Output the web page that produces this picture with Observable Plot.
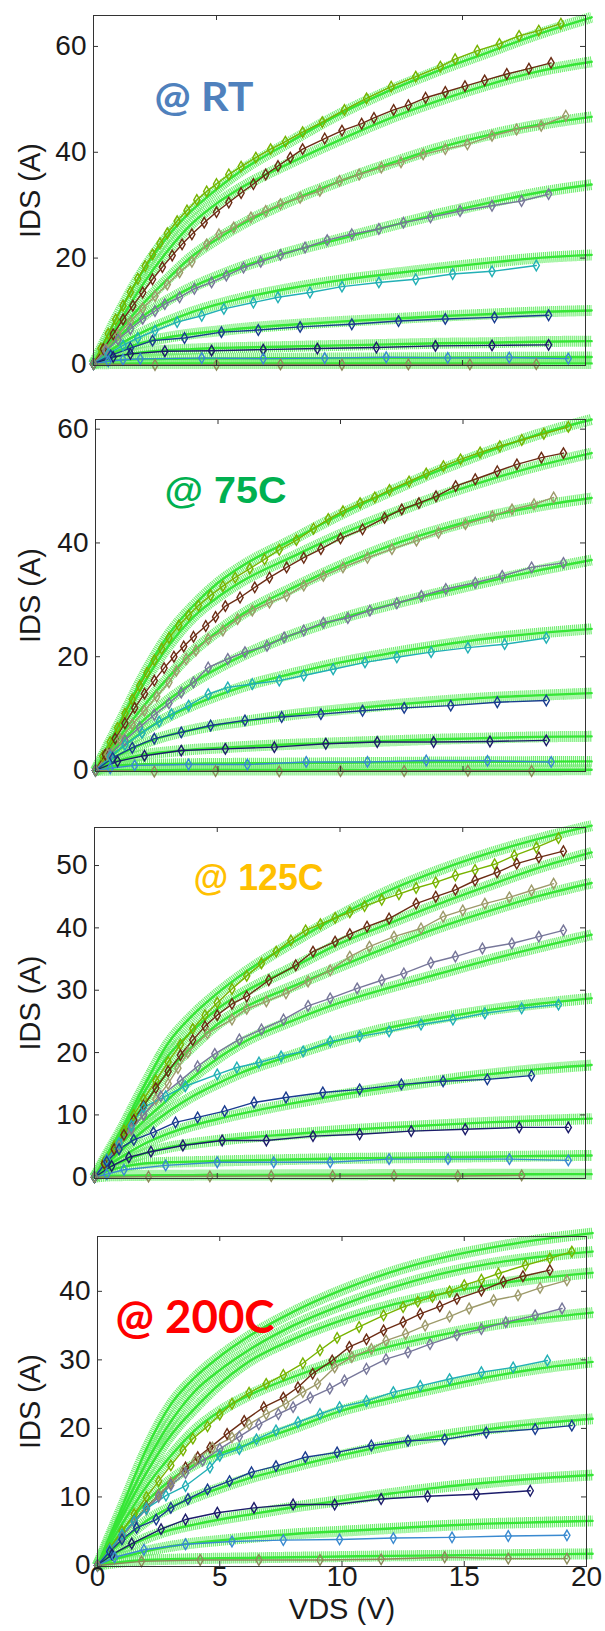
<!DOCTYPE html>
<html><head><meta charset="utf-8">
<script src="https://cdn.jsdelivr.net/npm/d3@7"></script>
<script src="https://cdn.jsdelivr.net/npm/@observablehq/plot@0.6"></script>
<style>
body{margin:0;background:#fff;}
#chart{position:relative;width:605px;height:1631px;overflow:hidden;background:#fff;}
#chart svg{position:absolute;left:0;display:block;}
</style></head><body><div id="chart"></div>
<script>
// ---------- shared values ----------
const xLabel = "VDS (V)";
const yLabel = "IDS (A)";
const xTickLabels = [0, 5, 10, 15, 20];
const xInnerTicks = [5, 10, 15];
const modelV = [0, 0.5, 1, 2, 3, 4, 5, 6, 8, 10, 12, 14, 16, 18, 20.25];
const measColors = ["#77b300", "#6b2c14", "#9d9a6a", "#77779a", "#22b0b5", "#1a3c8f", "#1c1c6a", "#3a8ad0", "#8c8a5a"];
const titles = ["@ RT", "@ 75C", "@ 125C", "@ 200C"];
const titleColors = ["#4F81BD", "#00B050", "#FFC000", "#FF0000"];
const yTicksRT = [0, 20, 40, 60];
const yTicks75 = [0, 20, 40, 60];
const yTicks125 = [0, 10, 20, 30, 40, 50];
const yTicks200 = [0, 10, 20, 30, 40];

// ---------- model curves (IDS at modelV) ----------
const modelRT = [
  [0, 4.7, 9.3, 17.5, 24, 29, 33, 36.5, 42, 47.2, 51.6, 55.4, 58.8, 62.2, 65.5],
  [0, 3.8, 7.5, 15, 21.3, 26.5, 30.3, 33.3, 38, 42.3, 46.3, 49.7, 52.7, 55.2, 57.1],
  [0, 3, 6, 11.3, 16, 20.3, 23.5, 26.3, 30.8, 34.5, 37.8, 40.8, 43.2, 45.1, 46.7],
  [0, 2.6, 5, 9, 12, 14.5, 16.5, 18.3, 21.2, 23.6, 26, 28.3, 30.4, 32.3, 33.9],
  [0, 1.9, 3.5, 6, 8, 9.8, 11.2, 12.4, 14.3, 15.8, 17, 18.1, 19.1, 20, 20.6],
  [0, 1.5, 2.5, 4, 5, 5.7, 6.2, 6.7, 7.4, 8, 8.5, 9, 9.4, 9.8, 10.1],
  [0, 1, 1.5, 2.2, 2.6, 2.8, 3, 3.1, 3.3, 3.5, 3.7, 3.9, 4, 4.2, 4.3],
  [0, 0.5, 0.7, 0.9, 0.95, 1, 1.02, 1.05, 1.08, 1.1, 1.14, 1.18, 1.22, 1.26, 1.3],
  [0, 0.05, 0.06, 0.07, 0.07, 0.08, 0.08, 0.08, 0.09, 0.09, 0.1, 0.1, 0.1, 0.1, 0.1]
];
const model75 = [
  [0, 4.3, 8.5, 17, 24, 29, 33, 36, 40.5, 45, 49, 52.7, 56, 59, 61.7],
  [0, 3.8, 7.5, 15.5, 22, 27, 30.5, 33.3, 37.5, 41.5, 45, 48.2, 51, 53.5, 55.8],
  [0, 3, 6, 11.5, 16.5, 21, 24.5, 27.5, 32, 36, 39.5, 42.3, 44.6, 46.4, 47.9],
  [0, 2.5, 4.8, 9, 12.5, 15.5, 18, 20.2, 23.8, 26.7, 29.1, 31.2, 33.2, 35.1, 37],
  [0, 2, 3.8, 7, 9.5, 11.5, 13.2, 14.7, 17, 19, 20.6, 22, 23.2, 24.1, 24.9],
  [0, 1.6, 2.8, 4.8, 6.2, 7.2, 8, 8.6, 9.8, 10.7, 11.5, 12.2, 12.8, 13.2, 13.6],
  [0, 1.1, 1.8, 2.8, 3.3, 3.7, 3.95, 4.2, 4.6, 4.9, 5.2, 5.5, 5.7, 5.9, 6.0],
  [0, 0.6, 0.9, 1.1, 1.15, 1.2, 1.23, 1.26, 1.3, 1.36, 1.42, 1.48, 1.52, 1.56, 1.6],
  [0, 0.05, 0.06, 0.07, 0.07, 0.08, 0.08, 0.08, 0.09, 0.09, 0.1, 0.1, 0.1, 0.1, 0.12]
];
const model125 = [
  [0, 3.6, 7, 14.5, 21.5, 26, 29.5, 32.5, 37.5, 42, 46, 49.2, 51.9, 54.2, 56.4],
  [0, 3.3, 6.5, 13.5, 19.5, 23.5, 27, 29.5, 33.5, 37.5, 40.7, 43.8, 46.7, 49.5, 52.1],
  [0, 3, 6, 11.5, 17, 21, 24.5, 27, 30.5, 33.8, 37, 40, 42.6, 45, 47.2],
  [0, 2.6, 5, 9, 12.5, 16, 19, 21.5, 25, 28, 30.4, 32.6, 34.8, 36.8, 38.9],
  [0, 2.1, 4, 7.5, 10.5, 13, 15, 16.8, 19.5, 22, 24, 25.5, 26.8, 27.8, 28.7],
  [0, 1.7, 3, 5.3, 7, 8.3, 9.3, 10.2, 11.8, 13.2, 14.4, 15.5, 16.5, 17.3, 18],
  [0, 1.4, 2.3, 3.8, 4.8, 5.4, 5.9, 6.3, 6.9, 7.5, 8, 8.4, 8.8, 9.1, 9.4],
  [0, 1, 1.5, 2.2, 2.4, 2.5, 2.6, 2.7, 2.85, 3, 3.1, 3.2, 3.3, 3.4, 3.5],
  [0, 0.2, 0.25, 0.3, 0.32, 0.34, 0.36, 0.37, 0.39, 0.41, 0.43, 0.45, 0.47, 0.49, 0.5]
];
const model200 = [
  [0, 4.3, 8.5, 17, 23.5, 27.5, 30.5, 33, 37, 40.2, 42.8, 44.8, 46.3, 47.5, 48.5],
  [0, 3.9, 7.7, 15, 21, 25.5, 28.5, 31, 35, 38, 40.5, 42.5, 44, 45, 45.8],
  [0, 3.6, 7, 13.5, 19, 23, 26.5, 29.3, 33, 35.8, 38, 39.6, 40.9, 41.9, 42.7],
  [0, 3.1, 6, 11.5, 16, 19.8, 22.5, 24.5, 27.5, 30, 32, 33.6, 35, 36, 36.9],
  [0, 2.6, 5, 9.3, 12.5, 14.8, 16.3, 17.5, 20, 22.6, 24.4, 26, 27.5, 28.7, 29.7],
  [0, 1.9, 3.5, 6.5, 8.5, 10, 11.3, 12.5, 14.4, 16.1, 17.6, 18.9, 19.9, 20.7, 21.4],
  [0, 1.3, 2.3, 4, 5.2, 6, 6.7, 7.3, 8.5, 9.5, 10.5, 11.4, 12.1, 12.7, 13.2],
  [0, 0.7, 1.2, 2.1, 2.8, 3.3, 3.65, 4, 4.6, 5, 5.4, 5.8, 6.1, 6.3, 6.5],
  [0, 0.3, 0.5, 0.8, 0.9, 1, 1.05, 1.1, 1.2, 1.3, 1.4, 1.47, 1.55, 1.62, 1.7]
];

// ---------- measured curves: [VDS, IDS] ----------
const measRT = [
  [[0,0],[0.3,2.9],[0.6,5.7],[0.9,8.4],[1.2,11],[1.5,13.6],[1.8,16.1],[2.1,18.5],[2.4,20.7],[2.7,22.8],[3,24.7],[3.4,27],[3.8,29],[4.2,31],[4.6,32.6],[5,34],[5.5,35.8],[6,37.3],[6.6,39],[7.2,40.6],[7.8,42],[8.5,43.8],[9.3,45.7],[10.2,48],[11.1,50.2],[12.1,52.4],[13.1,54.3],[14.1,56.2],[14.7,57.6],[15.6,59.2],[16.5,60.5],[17.3,62],[18.1,63],[19,64.3]],
  [[0,0],[0.4,2.8],[0.8,5.6],[1.2,8.4],[1.6,11],[2,13.5],[2.4,16],[2.8,18.3],[3.2,20.5],[3.6,22.6],[4,24.5],[4.5,26.7],[5,28.7],[5.5,30.5],[6,32.3],[6.5,34],[7,35.8],[7.5,37.4],[8,39],[8.5,40.6],[9.4,42.6],[10.1,44.1],[10.9,45.4],[11.4,46.5],[12.2,48],[12.8,48.9],[13.5,50.3],[14.3,51.4],[15.1,52.5],[15.9,53.6],[16.8,54.8],[17.7,55.8],[18.6,56.9]],
  [[0,0],[0.5,2.8],[1,5.5],[1.5,8],[2,10.5],[2.5,12.8],[3,15],[3.5,17.3],[4,19.3],[4.6,22.6],[5.1,24.5],[5.7,25.8],[6.4,27.7],[7,28.9],[7.6,30.2],[8.4,31.4],[9.2,32.7],[10,34.6],[10.8,35.8],[11.7,37.1],[12.5,38.1],[13.4,39.6],[14.3,40.6],[15.2,41.5],[16.2,43.1],[17.2,44.3],[18.2,45],[19.2,46.9]],
  [[0,0],[0.5,2.4],[1,4.6],[1.5,6.6],[2,8.5],[2.5,10],[2.9,11.3],[3.5,12.6],[4.1,14.2],[4.8,15.4],[5.4,16.7],[6.1,18.2],[6.8,19.3],[7.6,20.6],[8.6,22],[9.5,23.4],[10.5,24.5],[11.6,25.5],[12.6,26.7],[13.7,27.7],[14.9,28.9],[16.2,29.9],[17.4,30.8],[18.5,32.1]],
  [[0,0],[0.6,1.9],[1.2,3.5],[1.8,4.9],[2.5,6.3],[3.4,7.9],[4.4,9.1],[5.3,10.4],[6.5,11.6],[7.5,12.6],[8.8,13.5],[10.1,14.6],[11.6,15.4],[13.1,16],[14.6,17],[16.2,17.5],[18,18.6]],
  [[0,0],[0.7,1.6],[1.5,3],[2.4,4.4],[3.7,4.9],[5.2,6],[6.7,6.4],[8.4,7],[10.5,7.5],[12.4,8.1],[14.3,8.5],[16.3,8.8],[18.5,9.2]],
  [[0,0],[0.8,1.3],[1.5,1.9],[2.9,2.4],[4.8,2.5],[6.9,2.7],[9.1,2.9],[11.5,3.1],[13.9,3.4],[16.2,3.5],[18.5,3.6]],
  [[0,0],[0.6,0.5],[1.2,0.8],[1.9,0.95],[4.4,1.1],[6.9,1.0],[9.4,1.1],[11.9,1.25],[14.4,1.15],[16.9,1.2],[19.3,1.0]],
  [[0,0],[2.5,-0.2],[5,-0.15],[7.6,-0.1],[10.1,-0.15],[12.8,-0.1],[15.3,-0.1],[18,-0.05]]
];
const meas75 = [
  [[0,0],[0.3,2.5],[0.6,5],[0.9,7.5],[1.2,10],[1.5,12.5],[1.8,14.9],[2.1,17.2],[2.4,19.4],[2.7,21.4],[3,23.3],[3.4,25.5],[3.8,27.3],[4.2,29],[4.7,30.8],[5.2,32.4],[5.7,33.9],[6.3,35.5],[6.9,37.1],[7.5,38.8],[8.2,40.5],[8.9,42.5],[9.5,44.2],[10.1,45.6],[10.8,47],[11.4,48],[12,49.3],[12.8,50.8],[13.5,52.2],[14.2,53.5],[14.9,54.7],[15.7,55.9],[16.5,57],[17.4,58.1],[18.3,59.2],[19.3,60.4]],
  [[0,0],[0.4,2.8],[0.8,5.6],[1.2,8.3],[1.6,11],[2,13.5],[2.4,15.8],[2.8,18],[3.2,20],[3.6,21.8],[4,23.5],[4.5,25.4],[4.9,27],[5.3,28.9],[5.9,30.4],[6.5,32.2],[7.1,33.9],[7.8,35.7],[8.5,37.4],[9.2,38.9],[10,40.8],[10.9,42.4],[11.8,44.4],[12.5,45.9],[13.2,47],[13.9,48.2],[14.7,50],[15.5,51.2],[16.4,52.6],[17.2,53.8],[18.2,55],[19.1,55.8]],
  [[0,0],[0.5,2.8],[1,5.5],[1.5,8.1],[2,10.5],[2.5,13],[3,15.5],[3.3,17.5],[3.7,19.6],[4.1,21.1],[4.6,23.1],[5.2,24.6],[5.8,26.6],[6.4,28.1],[7.1,29.5],[7.8,30.7],[8.5,32.5],[9.3,34.2],[10.1,35.7],[11.1,37.4],[12.1,38.9],[13.1,40.4],[14,41.8],[15.1,43.3],[16.2,44.7],[17,45.9],[17.9,46.8],[18.7,48]],
  [[0,0],[0.6,2.8],[1.2,5.3],[1.8,7.6],[2.4,9.8],[3,11.8],[3.5,13.7],[4,15.5],[4.6,18.1],[5.4,19.6],[6.1,20.8],[7,21.9],[7.7,23.4],[8.5,24.6],[9.3,26],[10.3,26.8],[11.2,28.1],[12.3,29.4],[13.3,30.7],[14.3,31.9],[15.5,33],[16.6,34.2],[17.8,35.7],[19.1,36.5]],
  [[0,0],[0.6,2.4],[1.2,4.5],[1.9,6.6],[2.6,8.6],[3.1,9.9],[3.8,11.4],[4.6,13.4],[5.4,14.6],[6.4,15.2],[7.5,15.8],[8.5,16.7],[9.7,17.8],[11,19],[12.3,19.9],[13.7,20.8],[15.2,21.6],[16.7,22.2],[18.4,23.3]],
  [[0,0],[0.7,2.2],[1.5,4],[2.4,5.6],[3.5,6.7],[4.7,7.9],[6.1,8.8],[7.6,9.4],[9.2,9.9],[10.9,10.5],[12.6,11],[14.5,11.4],[16.4,12],[18.4,12.3]],
  [[0,0],[0.9,1.6],[2,2.6],[3.5,3.5],[5.3,3.8],[7.3,4.1],[9.4,4.7],[11.5,5],[13.8,5],[16.1,5.1],[18.4,5.3]],
  [[0,0],[0.6,0.4],[1.6,0.9],[3.8,1.05],[6.2,1.05],[8.6,1.5],[11.1,1.5],[13.5,1.75],[16,1.7],[18.6,1.5]],
  [[0,0],[2.4,-0.2],[4.9,-0.1],[7.5,-0.15],[10,-0.1],[12.6,-0.1],[15.2,-0.05],[17.8,-0.1]]
];
const meas125 = [
  [[0,0],[0.4,2.5],[0.8,5],[1.2,7.5],[1.6,10],[2,12.5],[2.5,15.5],[3,18.5],[3.5,21.3],[4,23.8],[4.5,26],[5,28],[5.6,30.2],[6.2,32.3],[6.8,34.3],[7.4,36.2],[8,38],[8.6,39.6],[9.2,40.6],[9.8,41.6],[10.4,42.5],[11,43.5],[11.7,44.5],[12.4,45.4],[13.1,46.4],[13.9,47.3],[14.7,48.4],[15.5,49.3],[16.3,50.2],[17.1,51.6],[18,52.9],[18.9,54.4]],
  [[0,0],[0.4,2.2],[0.8,4.5],[1.2,6.8],[1.6,9.2],[2,11.5],[2.5,14.3],[3,17],[3.5,19.6],[4,22],[4.5,24.2],[5,26],[5.6,27.8],[6.2,29],[7.1,31.6],[8.2,34],[8.9,36.2],[9.8,37.8],[10.4,39],[11.1,40.2],[12,41.5],[13.1,43.9],[13.9,45],[14.7,46.1],[15.5,47.6],[16.4,48.9],[17.2,50.3],[18.1,51.3],[19.1,52.3]],
  [[0,0],[0.5,2.5],[1,5],[1.5,7.6],[2,10],[2.5,12.5],[3,15],[3.4,17.5],[3.8,20],[4.6,23.1],[5.6,25.3],[6.2,27],[7,28.2],[7.8,29.5],[8.7,31.4],[9.6,33.2],[10.4,35.4],[11.2,37],[12.2,38.6],[13.3,39.9],[14.2,41.8],[15,42.8],[15.9,43.9],[16.9,44.9],[17.8,46],[18.7,47.1]],
  [[0,0],[0.5,2.8],[1,5.4],[1.5,7.8],[2,10],[2.7,13],[3.5,15.5],[4.2,17.8],[4.9,19.8],[5.9,22.1],[6.8,23.7],[7.7,25.3],[8.7,27.5],[9.6,28.7],[10.7,30.3],[11.7,31.6],[12.6,32.7],[13.7,34.4],[14.7,35.4],[15.8,36.7],[17,37.5],[18.1,38.6],[19.1,39.6]],
  [[0,0],[0.5,2.8],[1,5.5],[1.5,8.3],[2,11.2],[2.9,13],[3.7,14.6],[5,16.5],[5.8,17.6],[6.7,18.4],[7.6,19.4],[8.5,20.2],[9.6,21.8],[10.8,22.6],[12,23.4],[13.3,24.5],[14.6,25.3],[15.9,26.3],[17.4,27.1],[18.9,27.7]],
  [[0,0],[0.5,2.5],[1,4.5],[1.6,6],[2.4,7.2],[3.3,8.8],[4.2,9.6],[5.3,10.6],[6.5,12],[7.8,12.8],[9.3,13.6],[10.8,14.1],[12.5,14.9],[14.2,15.4],[16,15.7],[17.8,16.3]],
  [[0,0],[0.7,1.8],[1.4,3.2],[2.3,4.1],[3.6,5.1],[5.2,5.9],[7,5.9],[8.9,6.6],[10.8,6.9],[12.9,7.4],[15.1,7.7],[17.3,8],[19.3,8]],
  [[0,0],[0.5,0.5],[1.2,1.2],[2.9,1.9],[5,2.4],[7.3,2.4],[9.6,2.4],[12,2.9],[14.4,2.9],[16.9,2.9],[19.3,2.7]],
  [[0,0],[2.2,0.1],[4.7,0.15],[7.2,0.2],[9.7,0.2],[12.2,0.25],[14.8,0.2],[17.4,0.3]]
];
const meas200 = [
  [[0,0],[0.5,2.5],[1,5],[1.5,7.5],[2,10],[2.5,12.3],[3,14.6],[3.5,16.8],[3.9,18.5],[4.5,20.3],[5,22],[5.5,23.6],[6.2,25.2],[6.9,26.5],[7.6,27.8],[8.4,29.5],[9.1,31.4],[9.8,33.2],[10.7,34.8],[11.7,36.5],[12.5,37.7],[13.1,38.5],[13.7,39.2],[14.4,40],[15,40.9],[15.7,41.7],[16.4,42.6],[17.5,43.8],[18.5,44.8],[19.4,45.8]],
  [[0,0],[0.5,2.2],[1,4.4],[1.5,6.5],[2,8.5],[2.5,10.3],[3,12],[3.6,14.3],[4.1,15.8],[4.6,17.2],[5.3,19.2],[6,21.1],[6.8,23.1],[7.6,24.5],[8.2,26],[8.8,28],[9.6,29.9],[10.3,31.9],[11,33],[11.7,34.3],[12.5,35.5],[13.2,36.7],[14,37.8],[14.7,38.9],[15.7,40.1],[16.6,41.4],[17.4,42.2],[18.5,43.1]],
  [[0,0],[0.5,2.2],[1,4.3],[1.5,6.4],[2,8.4],[2.5,10.3],[3,12.1],[3.5,13.8],[4,15.4],[4.7,17.2],[5.5,18.7],[6.2,20.6],[6.9,22.1],[7.7,23.6],[8.4,25.3],[9,26.5],[9.7,28.9],[10.4,30.4],[11.2,31.6],[11.8,32.8],[12.6,33.8],[13.4,35],[14.4,36.3],[15.2,37.5],[16.2,38.7],[17.2,39.4],[18.1,40.5],[19.2,41.6]],
  [[0,0],[0.5,2.2],[1,4.3],[1.5,6.3],[2,8.2],[2.5,10],[3,11.7],[3.6,13.5],[4.3,15.3],[5,17],[5.8,18.8],[6.6,20.6],[7.4,22.1],[8,23.1],[8.7,24.5],[9.5,25.8],[10.1,27],[11,28.7],[11.8,30.1],[12.7,31.1],[13.6,32.3],[14.7,33.6],[15.7,34.5],[16.7,35.5],[17.9,36.5],[19,37.5]],
  [[0,0],[0.5,2.3],[1,4.5],[1.5,6.5],[2,8.3],[2.8,10.2],[3.6,11.6],[4.6,14.3],[5,16],[5.8,17],[6.5,18.4],[7.3,19.7],[8.2,20.9],[9.1,22.1],[9.9,23.1],[11,24],[12.1,25.3],[13.2,26.2],[14.4,27.2],[15.7,28.2],[17,28.9],[18.4,29.9]],
  [[0,0],[0.5,2],[1,3.8],[1.6,5.5],[2.4,6.7],[3,8.4],[3.7,9.7],[4.5,11.1],[5.4,12.3],[6.3,13.6],[7.3,14.5],[8.5,15.8],[9.8,16.5],[11.2,17.5],[12.7,18.2],[14.2,18.4],[15.9,19.4],[17.9,19.9],[19.4,20.4]],
  [[0,0],[0.6,1.6],[1.4,3.2],[2.6,5.3],[3.6,6.7],[4.9,7.7],[6.4,8.4],[8,8.9],[9.7,8.9],[11.6,9.7],[13.5,10.1],[15.5,10.4],[17.7,10.9]],
  [[0,0],[0.7,1.2],[1.9,2.3],[3.6,3.1],[5.5,3.5],[7.6,3.7],[9.9,3.8],[12.1,4],[14.5,4.1],[16.8,4.3],[19.2,4.4]],
  [[0,0],[1.8,0.6],[4.2,0.8],[6.6,0.8],[9.1,0.8],[11.6,0.9],[14.2,1.2],[16.8,1.0],[19.2,1.0]]
];

// ---------- layout (pixels) ----------
const layout = [
  {top: 0,    height: 400, mt: 15, mb: 35, ml: 93, mr: 20, yDomain: [-0.3, 65.85], yTicks: yTicksRT,  model: modelRT,  meas: measRT,
   tFont: "Lato", tSize: 40, tX: 154, tBase: 110, tW: 99},
  {top: 400,  height: 400, mt: 19, mb: 29, ml: 95, mr: 20, yDomain: [-0.18, 61.7], yTicks: yTicks75,  model: model75,  meas: meas75,
   tFont: "Liberation Sans", tSize: 36, tX: 164, tBase: 102, tW: 122},
  {top: 800,  height: 400, mt: 27, mb: 22, ml: 94, mr: 20, yDomain: [-0.2, 56.1],  yTicks: yTicks125, model: model125, meas: meas125,
   tFont: "Liberation Sans", tSize: 36, tX: 193, tBase: 89, tW: 130},
  {top: 1200, height: 431, mt: 36, mb: 65, ml: 97, mr: 19, yDomain: [-0.15, 48],  yTicks: yTicks200, model: model200, meas: meas200,
   tFont: "Lato", tSize: 46, tX: 115, tBase: 132, tW: 159}
];

function modelRows(series) {
  return series.flatMap((ys, k) => ys.map((i, j) => ({v: modelV[j], i, k})));
}
function measRows(series) {
  return series.flatMap((pts, k) => pts.map(([v, i]) => ({v, i, k, c: measColors[k]})));
}

const chart = document.getElementById("chart");
layout.forEach((p, idx) => {
  const W = 605;
  const plotW = W - p.ml - p.mr;
  const plotH = p.height - p.mt - p.mb;
  const mR = modelRows(p.model);
  const dR = measRows(p.meas);
  const last = idx === layout.length - 1;
  const title = titles[idx];
  const marks = [
    Plot.line(mR, {x: "v", y: "i", z: "k", curve: "monotone-x", stroke: "#72ee72", strokeWidth: 11, strokeDasharray: "1.2,0.8", strokeLinecap: "butt", strokeLinejoin: "miter", strokeOpacity: 1}),
    Plot.line(mR, {x: "v", y: "i", z: "k", curve: "monotone-x", stroke: "#36e636", strokeWidth: 2.4}),
    Plot.line(dR, {x: "v", y: "i", z: "k", stroke: "c", strokeWidth: 1.4}),
    Plot.dot(dR, {x: "v", y: "i", stroke: "c", symbol: "diamond", r: 3.2, strokeWidth: 1.4, fill: "none"}),
    Plot.frame({stroke: "#333", strokeWidth: 1}),
    Plot.tickY(p.yTicks.filter(t => t > 0), {y: d => d, stroke: "#333", insetRight: plotW - 5}),
    Plot.tickY(p.yTicks.filter(t => t > 0), {y: d => d, stroke: "#333", insetLeft: plotW - 5}),
    Plot.tickX(xInnerTicks, {x: d => d, stroke: "#333", insetBottom: plotH - 5}),
    Plot.tickX(xInnerTicks, {x: d => d, stroke: "#333", insetTop: plotH - 5}),
    Plot.axisY({ticks: p.yTicks, tickSize: 0, tickPadding: 7, label: null, fontSize: 28, fill: "#1a1a1a"}),
    Plot.text([yLabel], {text: d => d, frameAnchor: "left", dx: -(p.ml - 30), rotate: -90, fontSize: 29, fill: "#1a1a1a", textAnchor: "middle", lineAnchor: "middle"}),
    Plot.text([title], {text: d => d, frameAnchor: "top-left", dx: p.tX - p.ml, dy: p.tBase - p.mt - 0.32 * p.tSize,
      textAnchor: "start", lineAnchor: "middle", fontSize: p.tSize, fontWeight: "bold", fontFamily: p.tFont, fill: titleColors[idx]})
  ];
  if (last) {
    marks.push(Plot.axisX({ticks: xTickLabels, tickSize: 0, tickPadding: 0, label: null, fontSize: 28, fill: "#1a1a1a"}));
    marks.push(Plot.text([xLabel], {text: d => d, frameAnchor: "bottom", dy: 43, fontSize: 29, fill: "#1a1a1a", textAnchor: "middle", lineAnchor: "middle"}));
  }
  const svg = Plot.plot({
    width: W, height: p.height,
    marginTop: p.mt, marginBottom: p.mb, marginLeft: p.ml, marginRight: p.mr,
    style: {fontFamily: "'Liberation Sans', Arial, sans-serif", fontSize: "28px", background: "transparent", overflow: "visible"},
    x: last ? {domain: [0, 20]} : {domain: [0, 20], axis: null},
    y: {domain: p.yDomain},
    color: {type: "identity"},
    marks
  });
  svg.style.top = p.top + "px";
  d3.select(svg).selectAll("text").filter(function() { return this.textContent === title; })
    .attr("textLength", p.tW).attr("lengthAdjust", "spacingAndGlyphs");
  chart.appendChild(svg);
});
</script>
</body></html>
